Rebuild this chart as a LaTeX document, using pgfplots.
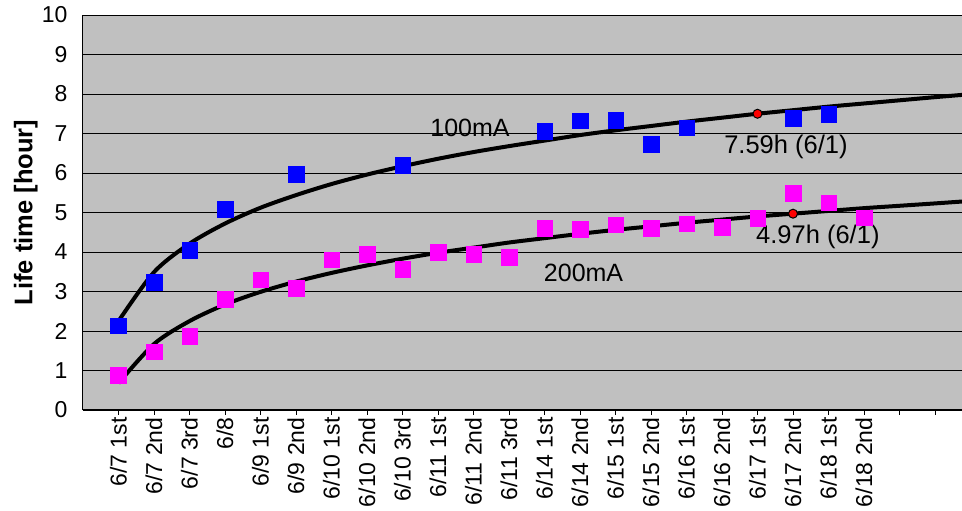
\documentclass[border=0pt]{standalone}
\usepackage{fontspec}
\setmainfont{Liberation Sans}
\usepackage{pgfplots}
\pgfplotsset{compat=1.18}
\usetikzlibrary{calc}
\definecolor{plotbg}{RGB}{192,192,192}
\definecolor{blueser}{RGB}{0,0,255}
\definecolor{pinkser}{RGB}{255,0,255}

\begin{document}
\begin{tikzpicture}
\begin{axis}[name=ax, scale only axis,
    width=879pt, height=395pt,
    xmin=-1, xmax=23.76, ymin=0, ymax=10,
    axis background/.style={fill=plotbg},
    axis x line*=bottom, axis y line*=left,
    axis line style={-, line width=1pt, black},
    ytick={0,...,10}, xtick={0,...,23},
    xticklabels={6/7 1st,6/7 2nd,6/7 3rd,6/8,6/9 1st,6/9 2nd,6/10 1st,6/10 2nd,6/10 3rd,6/11 1st,6/11 2nd,6/11 3rd,6/14 1st,6/14 2nd,6/15 1st,6/15 2nd,6/16 1st,6/16 2nd,6/17 1st,6/17 2nd,6/18 1st,6/18 2nd,,},
    ymajorgrids, grid style={black, line width=0.7pt},
    xtick align=outside, ytick align=inside, major tick length=5pt,
    tick style={black, line width=0.8pt},
    /pgf/number format/assume math mode=true,
    yticklabel style={font=\fontsize{23}{23}\selectfont, xshift=-12pt},
    xticklabel style={font=\fontsize{23}{23}\selectfont, rotate=90, anchor=east, xshift=1pt},
    ylabel={Life time [hour]},
    ylabel style={font=\fontsize{25.5}{30}\selectfont\bfseries, at={(axis description cs:-0.065,0.5)}, anchor=center, rotate=0},
    clip=true,
]
% 100mA
\addplot[only marks, mark=square*, mark size=7.8pt, color=blueser] coordinates {
(0,2.13) (1,3.23) (2,4.05) (3,5.08) (5,5.97) (8,6.2) (12,7.06) (13,7.32) (14,7.33) (15,6.73) (16,7.15) (19,7.39) (20,7.49)};
% 200mA
\addplot[only marks, mark=square*, mark size=7.8pt, color=pinkser] coordinates {
(0,0.88) (1,1.48) (2,1.87) (3,2.81) (4,3.3) (5,3.09) (6,3.8) (7,3.95) (8,3.57) (9,4.0) (10,3.94) (11,3.87) (12,4.61) (13,4.58) (14,4.69) (15,4.6) (16,4.72) (17,4.63) (18,4.86) (19,5.49) (20,5.25) (21,4.87)};
% trend curves
\addplot[black, line width=4pt, smooth] coordinates {
(0,2.25) (1,3.49) (2,4.21) (3,4.72) (4,5.12) (5,5.44) (6,5.72) (7,5.96) (8,6.17) (9,6.36) (10,6.53) (11,6.68) (12,6.82) (13,6.96) (14,7.08) (15,7.19) (16,7.30) (17,7.40) (18,7.50) (19,7.59) (20,7.68) (21,7.76) (22,7.84) (23,7.92) (23.8,7.98)};
\addplot[black, line width=4pt, smooth] coordinates {
(0,0.68) (1,1.67) (2,2.25) (3,2.67) (4,2.99) (5,3.25) (6,3.47) (7,3.66) (8,3.83) (9,3.98) (10,4.11) (11,4.24) (12,4.35) (13,4.46) (14,4.56) (15,4.65) (16,4.74) (17,4.82) (18,4.90) (19,4.97) (20,5.04) (21,5.11) (22,5.17) (23,5.23) (23.8,5.28)};
% 6/1 markers
\addplot[only marks, mark=*, mark size=4.5pt, mark options={fill=red, draw=black, line width=1pt}] coordinates {(18,7.5) (19,4.97)};
\node[font=\fontsize{25}{25}\selectfont] at (axis cs:9.9,7.14) {100mA};
\node[font=\fontsize{25}{25}\selectfont] at (axis cs:13.1,3.47) {200mA};
\node[font=\fontsize{25.5}{25}\selectfont] at (axis cs:18.8,6.66) {7.59h (6/1)};
\node[font=\fontsize{25.5}{25}\selectfont] at (axis cs:19.7,4.38) {4.97h (6/1)};
\end{axis}
\pgfresetboundingbox
\path[use as bounding box] ($(ax.south west)+(-83pt,-101pt)$) rectangle ($(ax.north east)+(0pt,15pt)$);
\end{tikzpicture}
\end{document}
